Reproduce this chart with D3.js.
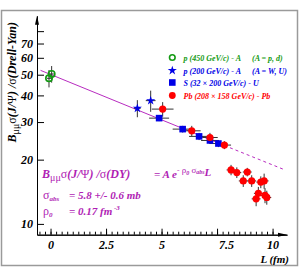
<!DOCTYPE html>
<html>
<head>
<meta charset="utf-8">
<script src="https://cdn.jsdelivr.net/npm/d3@7"></script>
<style>
  body { margin: 0; background: #fff; }
  svg text { font-family: "Liberation Serif", "DejaVu Serif", serif; font-weight: bold; font-style: italic; }
  .greek { font-style: normal; font-weight: normal; }
</style>
</head>
<body>
<div id="chart"></div>
<script>
// values
const yTicks = [10, 20, 30, 40, 50, 60, 70, 80];
const yLabels = ["10", "20", "30", "40", "50", "60", "70", ""];
const xTicks = [0, 2.5, 5, 7.5, 10];
const xLabels = ["0", "2.5", "5", "7.5", "10"];

// L (fm), ratio, errors
const pA450 = [
  {L: -0.07, R: 48.1, eL: 0.1, eR: 4.5},
  {L: 0.05, R: 50.4, eL: 0.1, eR: 4.5}
];
const pA200 = [
  {L: 3.91, R: 34.8, eL: 0.15, eR: 3.2},
  {L: 4.51, R: 37.8, eL: 0.22, eR: 4.3}
];
const SU = [
  {L: 4.89, R: 31.3, eL: 0.45, eR: 1.0},
  {L: 5.95, R: 27.8, eL: 0.45, eR: 1.0},
  {L: 6.69, R: 25.7, eL: 0.45, eR: 1.0},
  {L: 7.18, R: 24.6, eL: 0.4, eR: 0.9},
  {L: 7.56, R: 23.8, eL: 0.4, eR: 0.9}
];
const PbPb = [
  {L: 5.05, R: 34.5, eL: 0.49, eR: 2.7},
  {L: 6.36, R: 27.3, eL: 0.4, eR: 1.5},
  {L: 7.18, R: 25.4, eL: 0.35, eR: 1.3},
  {L: 7.83, R: 23.4, eL: 0.3, eR: 1.0},
  {L: 8.13, R: 17.9, eL: 0.2, eR: 1.0},
  {L: 8.39, R: 17.4, eL: 0.2, eR: 1.0},
  {L: 8.86, R: 17.5, eL: 0.2, eR: 0.8},
  {L: 8.68, R: 15.9, eL: 0.2, eR: 1.0},
  {L: 9.06, R: 15.9, eL: 0.2, eR: 1.0},
  {L: 9.47, R: 15.7, eL: 0.2, eR: 1.0},
  {L: 9.62, R: 15.9, eL: 0.2, eR: 1.3},
  {L: 9.36, R: 13.9, eL: 0.2, eR: 1.0},
  {L: 9.66, R: 13.6, eL: 0.2, eR: 1.1},
  {L: 9.26, R: 13.1, eL: 0.2, eR: 1.0},
  {L: 9.74, R: 13.3, eL: 0.2, eR: 1.0}
];

// fit line (solid part, then dashed extrapolation)
const fitSolid = [{L: -0.45, R: 52.4}, {L: 7.83, R: 23.3}];
const fitDashed = [{L: 7.83, R: 23.3}, {L: 10.56, R: 17.9}];

const legendLabels = [
  "p (450 GeV/c) - A",
  "p (200 GeV/c) - A",
  "S (32 \u00d7 200 GeV/c) - U",
  "Pb (208 \u00d7 158 GeV/c) - Pb"
];
const legendExtra = ["(A = p, d)", "(A = W, U)", "", ""];

const green = "#139a13", blue = "#0000e6", red = "#ff0000", magenta = "#b82cc0";

const width = 300, height = 268;

const svg = d3.select("#chart")
  .append("svg")
    .attr("width", width)
    .attr("height", height);

// frame
svg.append("rect")
  .attr("x", 1.5).attr("y", 10.5)
  .attr("width", 296).attr("height", 255)
  .attr("fill", "none")
  .attr("stroke", "#9a9a9a")
  .attr("stroke-width", 1.5);

// scales
const x = d3.scaleLinear().domain([-0.61, 10.65]).range([37, 287]);
const y = d3.scaleLog().domain([8.9, 94.5]).range([234.7, 15.7]);

// y axis
svg.append("g")
  .attr("transform", "translate(37,0)")
  .call(d3.axisLeft(y).tickValues(yTicks).tickSize(-7).tickSizeOuter(0).tickPadding(4)
    .tickFormat((d, i) => yLabels[i]))
  .call(g => g.selectAll("text").attr("font-size", 12).attr("fill", "#000"));

// x axis, minor then major ticks
svg.append("g")
  .attr("transform", "translate(0,234.7)")
  .call(d3.axisBottom(x).tickValues(d3.range(-0.5, 10.01, 0.25)).tickSize(-3).tickSizeOuter(0).tickFormat(""));

svg.append("g")
  .attr("transform", "translate(0,234.7)")
  .call(d3.axisBottom(x).tickValues(xTicks).tickSize(-6).tickSizeOuter(0).tickPadding(6)
    .tickFormat((d, i) => xLabels[i]))
  .call(g => g.selectAll("text").attr("font-size", 12).attr("fill", "#000"))
  .call(g => g.selectAll(".tick").filter(d => d === 7.5).select("text").attr("dx", 9));

svg.selectAll(".domain").attr("stroke", "#000");
svg.selectAll(".tick line").attr("stroke", "#000");

// arrow heads
svg.append("path")
  .attr("d", "M" + x.range()[1] + ",234.7 l-9,-2 l0,4 z")
  .attr("fill", "#000");
svg.append("path")
  .attr("d", "M37," + y.range()[1] + " l-2,9 l4,0 z")
  .attr("fill", "#000");

// axis titles
const yTitle = svg.append("text")
  .attr("transform", "translate(15.5,22) rotate(-90)")
  .attr("text-anchor", "end")
  .attr("font-size", 12);
yTitle.append("tspan").text("B");
yTitle.append("tspan").attr("class", "greek").attr("font-size", 10).attr("dy", 3).text("\u03bc\u03bc");
yTitle.append("tspan").attr("class", "greek").attr("dy", -3).text("\u03c3");
yTitle.append("tspan").text("(J/");
yTitle.append("tspan").attr("class", "greek").text("\u03a8");
yTitle.append("tspan").text(") /");
yTitle.append("tspan").attr("class", "greek").text("\u03c3");
yTitle.append("tspan").text("(Drell-Yan)");

svg.append("text")
  .attr("x", 289).attr("y", 262.5)
  .attr("text-anchor", "end")
  .attr("font-size", 11)
  .text("L (fm)");

// fit line
const line = d3.line().x(d => x(d.L)).y(d => y(d.R));
svg.append("path").datum(fitSolid)
  .attr("d", line).attr("fill", "none")
  .attr("stroke", magenta).attr("stroke-width", 1);
svg.append("path").datum(fitDashed)
  .attr("d", line).attr("fill", "none")
  .attr("stroke", magenta).attr("stroke-width", 1)
  .attr("stroke-dasharray", "3,3");

// error bars
function errorBars(data) {
  const g = svg.append("g").attr("stroke", "#333").attr("stroke-width", 1);
  g.selectAll("line.h").data(data).enter().append("line")
    .attr("x1", d => x(d.L - d.eL)).attr("x2", d => x(d.L + d.eL))
    .attr("y1", d => y(d.R)).attr("y2", d => y(d.R));
  g.selectAll("line.v").data(data).enter().append("line")
    .attr("x1", d => x(d.L)).attr("x2", d => x(d.L))
    .attr("y1", d => y(d.R - d.eR)).attr("y2", d => y(d.R + d.eR));
}
errorBars(pA450);
errorBars(pA200);
errorBars(SU);
errorBars(PbPb);

// markers
svg.selectAll("circle.pa450").data(pA450).enter().append("circle")
  .attr("cx", d => x(d.L)).attr("cy", d => y(d.R)).attr("r", 3.2)
  .attr("fill", "none").attr("stroke", green).attr("stroke-width", 1.6);

const star = d3.symbol().type(d3.symbolStar).size(26);
svg.selectAll("path.pa200").data(pA200).enter().append("path")
  .attr("d", star)
  .attr("transform", d => "translate(" + x(d.L) + "," + y(d.R) + ")")
  .attr("fill", blue);

svg.selectAll("rect.su").data(SU).enter().append("rect")
  .attr("x", d => x(d.L) - 3.3).attr("y", d => y(d.R) - 3.3)
  .attr("width", 6.6).attr("height", 6.6)
  .attr("fill", blue);

svg.selectAll("circle.pb").data(PbPb).enter().append("circle")
  .attr("cx", d => x(d.L)).attr("cy", d => y(d.R)).attr("r", 3.6)
  .attr("fill", red);

// legend
const legendY = [57.5, 70.5, 82.5, 95.5];
const legendColor = [green, blue, blue, red];
const lg = svg.append("g");
lg.append("circle").attr("cx", 172.3).attr("cy", legendY[0]).attr("r", 2.8)
  .attr("fill", "none").attr("stroke", green).attr("stroke-width", 1.6);
lg.append("path").attr("d", star).attr("transform", "translate(172.3," + legendY[1] + ")").attr("fill", blue);
lg.append("rect").attr("x", 169).attr("y", legendY[2] - 3.3).attr("width", 6.6).attr("height", 6.6).attr("fill", blue);
lg.append("circle").attr("cx", 172.3).attr("cy", legendY[3]).attr("r", 3.4).attr("fill", red);

lg.selectAll("text.lab").data(legendLabels).enter().append("text")
  .attr("x", 183.5).attr("y", (d, i) => legendY[i] + 3)
  .attr("font-size", 8)
  .attr("fill", (d, i) => legendColor[i])
  .text(d => d);
lg.selectAll("text.extra").data(legendExtra).enter().append("text")
  .attr("x", 252).attr("y", (d, i) => legendY[i] + 3)
  .attr("font-size", 8)
  .attr("fill", (d, i) => legendColor[i])
  .text(d => d);

// formula
const f = svg.append("g").attr("fill", "#b01eb4");
const f1 = f.append("text").attr("x", 42).attr("y", 178).attr("font-size", 12);
f1.append("tspan").text("B");
f1.append("tspan").attr("class", "greek").attr("font-size", 10).attr("dy", 3).text("\u03bc\u03bc");
f1.append("tspan").attr("class", "greek").attr("dy", -3).text("\u03c3");
f1.append("tspan").text("(J/");
f1.append("tspan").attr("class", "greek").text("\u03a8");
f1.append("tspan").text(") /");
f1.append("tspan").attr("class", "greek").text("\u03c3");
f1.append("tspan").text("(DY)");

const f2 = f.append("text").attr("x", 154).attr("y", 178).attr("font-size", 11);
f2.append("tspan").text("= A e");
f2.append("tspan").attr("font-size", 8).attr("dy", -5).text("- ");
f2.append("tspan").attr("class", "greek").attr("font-size", 9).text("\u03c1");
f2.append("tspan").attr("font-size", 6).attr("dy", 2).text("0");
f2.append("tspan").attr("class", "greek").attr("font-size", 9).attr("dy", -2).text(" \u03c3");
f2.append("tspan").attr("font-size", 6).attr("dy", 1).text("abs");
f2.append("tspan").attr("font-size", 11).attr("dy", 2).text("L");

const f3 = f.append("text").attr("x", 43).attr("y", 199).attr("font-size", 12);
f3.append("tspan").attr("class", "greek").text("\u03c3");
f3.append("tspan").attr("font-size", 7).attr("dy", 2).text("abs");
f.append("text").attr("x", 69).attr("y", 199).attr("font-size", 11).text("= 5.8 +/- 0.6 mb");

const f4 = f.append("text").attr("x", 43).attr("y", 215).attr("font-size", 12);
f4.append("tspan").attr("class", "greek").text("\u03c1");
f4.append("tspan").attr("font-size", 7).attr("dy", 2).text("0");
const f5 = f.append("text").attr("x", 69).attr("y", 215).attr("font-size", 11);
f5.append("tspan").text("= 0.17 fm");
f5.append("tspan").attr("font-size", 7).attr("dy", -5).text(" -3");
</script>
</body>
</html>
